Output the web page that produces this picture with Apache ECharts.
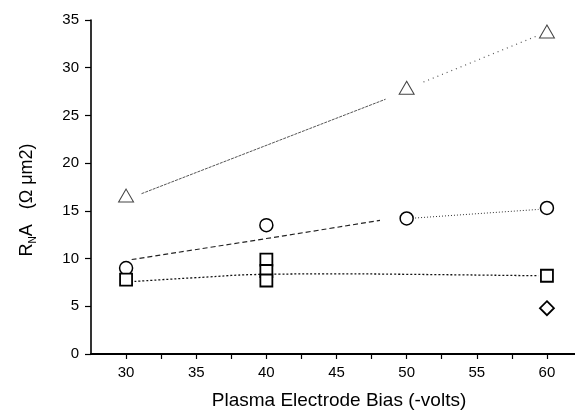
<!DOCTYPE html>
<html>
<head>
<meta charset="utf-8">
<script src="https://cdn.jsdelivr.net/npm/echarts@6/dist/echarts.min.js"></script>
<style>
html, body { margin: 0; padding: 0; background: #fff; }
#chartmain { width: 575px; height: 415px; }
</style>
</head>
<body>
<div id="chartmain"></div>
<script>
// measured points
var triangles = [[30, 16.6], [50, 27.9], [60, 33.8]];
var circles = [[30, 9.0], [40, 13.5], [50, 14.2], [60, 15.3]];
var squares = [[30, 7.8], [40, 9.9], [40, 8.7], [40, 7.7], [60, 8.2]];
var diamonds = [[60, 4.8]];

// guide lines
var triLine1 = [[31.1, 16.8], [48.5, 26.7]];
var triLine2 = [[51.2, 28.5], [59.4, 33.4]];
var cirLine1 = [[30.4, 9.9], [40, 12.1], [48.1, 14.0]];
var cirLine2 = [[50.6, 14.25], [59.4, 15.15]];
var sqLine = [[30.6, 7.6], [35, 8.0], [40, 8.35], [45, 8.4], [50, 8.35], [59.4, 8.2]];

var xLabels = [30, 35, 40, 45, 50, 55, 60];
var xTicks = [30, 32.5, 35, 37.5, 40, 42.5, 45, 47.5, 50, 52.5, 55, 57.5, 60];

var font = 'Liberation Sans, Arial, sans-serif';

function guide(data, type, color, width, smooth) {
    return {
        type: 'line',
        data: data,
        showSymbol: false,
        symbol: 'none',
        smooth: smooth || false,
        silent: true,
        lineStyle: { color: color, width: width, type: type },
        z: 1
    };
}

function marks(data, symbol, size, color, bw) {
    return {
        type: 'scatter',
        data: data,
        symbol: symbol,
        symbolSize: size,
        itemStyle: { color: '#fff', borderColor: color, borderWidth: bw, opacity: 1 },
        z: 3
    };
}

var option = {
    animation: false,
    backgroundColor: '#fff',
    grid: { left: 91, top: 20, right: 0, bottom: 60 },
    xAxis: {
        type: 'value',
        min: 27.5,
        max: 62,
        name: 'Plasma Electrode Bias (-volts)',
        nameLocation: 'middle',
        nameGap: 37,
        nameTextStyle: { fontFamily: font, fontSize: 19, color: '#000', padding: [0, 0, 0, 12] },
        axisLine: { lineStyle: { color: '#000', width: 2 } },
        axisTick: { length: 5, customValues: xTicks, lineStyle: { color: '#000', width: 1.2 } },
        axisLabel: { customValues: xLabels, fontFamily: font, fontSize: 15, color: '#000', margin: 11 },
        splitLine: { show: false }
    },
    yAxis: {
        type: 'value',
        min: 0,
        max: 35,
        interval: 5,
        name: '{a|R}{s|N}{a|A   (Ω μm2)}',
        nameLocation: 'middle',
        nameRotate: 90,
        nameGap: 53,
        nameTextStyle: {
            fontFamily: font, fontSize: 18, color: '#000',
            padding: [0, 26, 0, 0],
            rich: {
                a: { fontFamily: font, fontSize: 18, color: '#000', lineHeight: 22 },
                s: { fontFamily: font, fontSize: 10, color: '#000', lineHeight: 22, verticalAlign: 'bottom' }
            }
        },
        axisLine: { show: true, lineStyle: { color: '#000', width: 1.6 } },
        axisTick: { show: true, length: 6, lineStyle: { color: '#000', width: 1.2 } },
        axisLabel: { fontFamily: font, fontSize: 15, color: '#000', margin: 12 },
        splitLine: { show: false }
    },
    series: [
        guide(triLine1, [3, 1], '#555', 1),
        guide(triLine2, [1, 4], '#555', 1.2),
        guide(cirLine1, [5, 3], '#222', 1.2, true),
        guide(cirLine2, [1, 2], '#333', 1),
        guide(sqLine, [2, 2], '#111', 1.3, true),
        marks(triangles, 'triangle', [15, 13], '#444', 1),
        marks(circles, 'circle', 13, '#000', 1.5),
        marks(squares, 'rect', 12, '#000', 1.8),
        marks(diamonds, 'diamond', [14, 14], '#000', 1.8)
    ]
};

var myChart = echarts.init(document.getElementById('chartmain'));
myChart.setOption(option);
</script>
</body>
</html>
